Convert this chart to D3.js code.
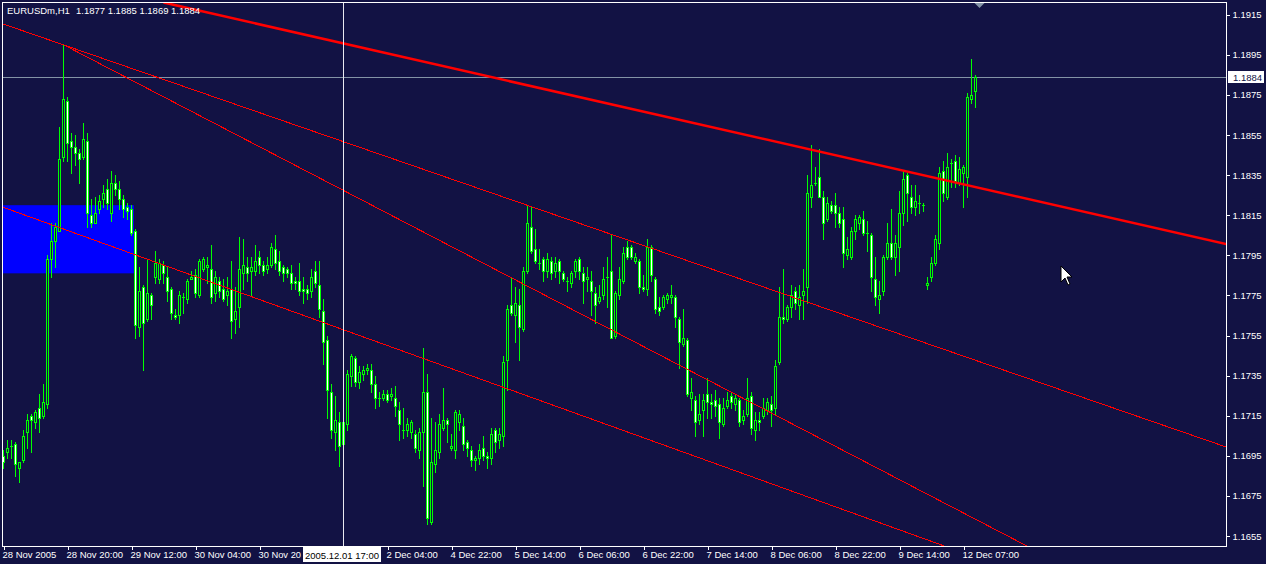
<!DOCTYPE html>
<html><head><meta charset="utf-8">
<script src="https://cdn.jsdelivr.net/npm/d3@7"></script>
<style>
html,body{margin:0;padding:0;background:#121244;}
svg{display:block;}
text{font-family:"Liberation Sans",Arial,sans-serif;font-size:9.5px;}
</style></head><body><svg id="c" width="1266" height="564"></svg>
<script>
// ---------- DATA ----------
const symbolName = "EURUSDm,H1";
const lastQuote = [1.1877, 1.1885, 1.1869, 1.1884];
const open = [1.1695,1.1697,1.1700,1.1701,1.1689,1.1693,1.1707,1.1715,1.1712,1.1719,
1.1715,1.1721,1.1793,1.1802,1.1807,1.1844,1.1872,1.1852,1.1849,1.1846,
1.1844,1.1852,1.1815,1.1811,1.1818,1.1823,1.1828,1.1816,1.1831,1.1828,
1.1823,1.1819,1.1818,1.1807,1.1759,1.1779,1.1763,1.1775,1.1784,1.1783,
1.1790,1.1784,1.1778,1.1765,1.1765,1.1774,1.1773,1.1783,1.1785,1.1775,
1.1788,1.1789,1.1788,1.1776,1.1782,1.1778,1.1775,1.1778,1.1763,1.1769,
1.1786,1.1789,1.1787,1.1787,1.1794,1.1790,1.1788,1.1790,1.1798,1.1792,
1.1789,1.1788,1.1786,1.1782,1.1782,1.1778,1.1778,1.1777,1.1787,1.1780,
1.1767,1.1753,1.1727,1.1707,1.1712,1.1701,1.1711,1.1735,1.1744,1.1732,
1.1736,1.1738,1.1738,1.1731,1.1724,1.1724,1.1726,1.1725,1.1724,1.1718,
1.1708,1.1708,1.1707,1.1706,1.1698,1.1707,1.1727,1.1662,1.1691,1.1697,
1.1709,1.1713,1.1699,1.1698,1.1712,1.1710,1.1702,1.1698,1.1693,1.1694,
1.1699,1.1695,1.1694,1.1708,1.1703,1.1705,1.1743,1.1770,1.1765,1.1770,
1.1758,1.1787,1.1809,1.1798,1.1791,1.1793,1.1787,1.1792,1.1787,1.1792,
1.1786,1.1782,1.1781,1.1787,1.1793,1.1786,1.1783,1.1782,1.1776,1.1772,
1.1775,1.1784,1.1787,1.1755,1.1775,1.1782,1.1799,1.1799,1.1792,1.1792,
1.1779,1.1778,1.1799,1.1783,1.1769,1.1769,1.1773,1.1774,1.1774,1.1763,
1.1751,1.1753,1.1724,1.1723,1.1713,1.1718,1.1726,1.1722,1.1723,1.1721,
1.1711,1.1720,1.1725,1.1721,1.1723,1.1713,1.1716,1.1725,1.1708,1.1713,
1.1715,1.1718,1.1721,1.1719,1.1742,1.1764,1.1763,1.1769,1.1777,1.1770,
1.1775,1.1779,1.1824,1.1831,1.1834,1.1824,1.1813,1.1820,1.1820,1.1816,
1.1813,1.1795,1.1794,1.1807,1.1811,1.1813,1.1806,1.1805,1.1783,1.1773,
1.1777,1.1794,1.1801,1.1794,1.1799,1.1816,1.1835,1.1824,1.1819,1.1821,
1.1820,1.1780,1.1784,1.1791,1.1801,1.1837,1.1824,1.1841,1.1842,1.1831,
1.1836,1.1834,1.1873,1.1877];
const high = [1.1698,1.1703,1.1703,1.1702,1.1692,1.1708,1.1716,1.1716,1.1718,1.1726,
1.1731,1.1795,1.1811,1.1811,1.1859,1.1900,1.1874,1.1856,1.1855,1.1848,
1.1861,1.1856,1.1823,1.1824,1.1825,1.1830,1.1833,1.1837,1.1835,1.1832,
1.1825,1.1821,1.1820,1.1808,1.1789,1.1780,1.1793,1.1776,1.1797,1.1793,
1.1792,1.1789,1.1779,1.1768,1.1777,1.1776,1.1783,1.1787,1.1788,1.1793,
1.1794,1.1794,1.1800,1.1787,1.1784,1.1783,1.1784,1.1792,1.1779,1.1804,
1.1803,1.1794,1.1794,1.1800,1.1797,1.1792,1.1794,1.1801,1.1805,1.1797,
1.1790,1.1789,1.1790,1.1784,1.1791,1.1784,1.1780,1.1788,1.1792,1.1792,
1.1773,1.1755,1.1731,1.1725,1.1717,1.1713,1.1738,1.1746,1.1745,1.1740,
1.1740,1.1741,1.1741,1.1735,1.1727,1.1728,1.1728,1.1729,1.1730,1.1722,
1.1719,1.1714,1.1713,1.1708,1.1709,1.1749,1.1736,1.1714,1.1712,1.1716,
1.1729,1.1714,1.1706,1.1718,1.1718,1.1714,1.1703,1.1700,1.1695,1.1701,
1.1705,1.1697,1.1709,1.1709,1.1709,1.1745,1.1770,1.1784,1.1779,1.1778,
1.1789,1.1820,1.1819,1.1808,1.1798,1.1794,1.1796,1.1794,1.1794,1.1793,
1.1787,1.1784,1.1787,1.1793,1.1794,1.1789,1.1789,1.1787,1.1779,1.1780,
1.1789,1.1794,1.1805,1.1777,1.1789,1.1799,1.1802,1.1800,1.1796,1.1793,
1.1785,1.1803,1.1800,1.1784,1.1774,1.1775,1.1776,1.1780,1.1775,1.1764,
1.1768,1.1754,1.1734,1.1725,1.1726,1.1726,1.1734,1.1726,1.1728,1.1724,
1.1724,1.1727,1.1727,1.1726,1.1724,1.1718,1.1734,1.1727,1.1717,1.1717,
1.1724,1.1724,1.1725,1.1743,1.1779,1.1788,1.1770,1.1780,1.1779,1.1780,
1.1788,1.1835,1.1850,1.1839,1.1848,1.1827,1.1824,1.1822,1.1826,1.1819,
1.1819,1.1804,1.1809,1.1815,1.1815,1.1817,1.1812,1.1806,1.1794,1.1782,
1.1795,1.1811,1.1818,1.1805,1.1827,1.1837,1.1836,1.1830,1.1830,1.1825,
1.1821,1.1784,1.1794,1.1805,1.1839,1.1842,1.1846,1.1843,1.1845,1.1844,
1.1840,1.1876,1.1893,1.1885];
const low = [1.1689,1.1694,1.1694,1.1685,1.1682,1.1692,1.1699,1.1697,1.1709,1.1707,
1.1714,1.1719,1.1784,1.1789,1.1807,1.1842,1.1842,1.1836,1.1840,1.1831,
1.1843,1.1809,1.1809,1.1811,1.1816,1.1819,1.1818,1.1812,1.1825,1.1818,
1.1814,1.1813,1.1805,1.1754,1.1755,1.1738,1.1762,1.1763,1.1781,1.1781,
1.1781,1.1772,1.1763,1.1763,1.1761,1.1766,1.1771,1.1783,1.1774,1.1774,
1.1787,1.1781,1.1771,1.1772,1.1774,1.1772,1.1770,1.1754,1.1756,1.1759,
1.1778,1.1782,1.1775,1.1785,1.1786,1.1785,1.1786,1.1789,1.1788,1.1785,
1.1782,1.1784,1.1778,1.1778,1.1775,1.1771,1.1773,1.1774,1.1779,1.1764,
1.1741,1.1714,1.1704,1.1698,1.1690,1.1700,1.1708,1.1730,1.1730,1.1729,
1.1733,1.1736,1.1727,1.1719,1.1720,1.1723,1.1722,1.1723,1.1715,1.1703,
1.1704,1.1705,1.1704,1.1697,1.1694,1.1680,1.1661,1.1661,1.1687,1.1694,
1.1708,1.1702,1.1698,1.1694,1.1708,1.1698,1.1695,1.1690,1.1688,1.1691,
1.1693,1.1689,1.1691,1.1697,1.1699,1.1700,1.1728,1.1765,1.1752,1.1743,
1.1757,1.1786,1.1796,1.1791,1.1788,1.1782,1.1784,1.1783,1.1784,1.1781,
1.1782,1.1777,1.1779,1.1784,1.1783,1.1771,1.1777,1.1765,1.1761,1.1771,
1.1773,1.1769,1.1754,1.1754,1.1773,1.1781,1.1793,1.1793,1.1791,1.1776,
1.1777,1.1775,1.1782,1.1766,1.1765,1.1768,1.1771,1.1771,1.1759,1.1739,
1.1750,1.1725,1.1718,1.1705,1.1711,1.1705,1.1714,1.1714,1.1715,1.1704,
1.1710,1.1719,1.1719,1.1718,1.1710,1.1711,1.1715,1.1706,1.1703,1.1708,
1.1714,1.1716,1.1710,1.1716,1.1741,1.1761,1.1762,1.1764,1.1768,1.1763,
1.1763,1.1771,1.1819,1.1830,1.1824,1.1803,1.1812,1.1816,1.1809,1.1809,
1.1789,1.1793,1.1793,1.1803,1.1808,1.1805,1.1797,1.1777,1.1770,1.1766,
1.1775,1.1793,1.1793,1.1785,1.1787,1.1810,1.1812,1.1816,1.1815,1.1816,
1.1817,1.1778,1.1782,1.1790,1.1798,1.1822,1.1823,1.1829,1.1829,1.1830,
1.1819,1.1824,1.1871,1.1869];
const close = [1.1692,1.1699,1.1700,1.1691,1.1692,1.1705,1.1713,1.1713,1.1717,1.1714,
1.1722,1.1793,1.1802,1.1809,1.1843,1.1873,1.1851,1.1849,1.1846,1.1843,
1.1853,1.1816,1.1811,1.1816,1.1822,1.1826,1.1821,1.1831,1.1828,1.1823,
1.1818,1.1817,1.1806,1.1760,1.1777,1.1761,1.1776,1.1770,1.1791,1.1791,
1.1786,1.1777,1.1766,1.1764,1.1775,1.1774,1.1782,1.1784,1.1776,1.1792,
1.1793,1.1790,1.1774,1.1784,1.1777,1.1773,1.1777,1.1762,1.1767,1.1788,
1.1790,1.1786,1.1789,1.1792,1.1790,1.1787,1.1790,1.1799,1.1791,1.1787,
1.1786,1.1786,1.1781,1.1781,1.1777,1.1777,1.1776,1.1784,1.1781,1.1768,
1.1752,1.1728,1.1708,1.1713,1.1700,1.1712,1.1736,1.1745,1.1732,1.1737,
1.1738,1.1739,1.1731,1.1724,1.1724,1.1726,1.1723,1.1726,1.1720,1.1711,
1.1708,1.1711,1.1712,1.1699,1.1707,1.1727,1.1664,1.1692,1.1698,1.1711,
1.1713,1.1711,1.1700,1.1717,1.1716,1.1701,1.1699,1.1693,1.1694,1.1698,
1.1695,1.1694,1.1706,1.1702,1.1706,1.1742,1.1768,1.1766,1.1771,1.1759,
1.1787,1.1811,1.1797,1.1792,1.1791,1.1787,1.1793,1.1786,1.1791,1.1787,
1.1783,1.1782,1.1786,1.1792,1.1787,1.1782,1.1784,1.1777,1.1770,1.1774,
1.1783,1.1784,1.1754,1.1776,1.1783,1.1796,1.1794,1.1794,1.1794,1.1779,
1.1778,1.1799,1.1785,1.1768,1.1767,1.1774,1.1775,1.1775,1.1764,1.1752,
1.1754,1.1726,1.1727,1.1712,1.1716,1.1723,1.1722,1.1721,1.1720,1.1712,
1.1719,1.1723,1.1722,1.1724,1.1712,1.1715,1.1724,1.1709,1.1713,1.1712,
1.1719,1.1722,1.1718,1.1740,1.1764,1.1763,1.1769,1.1775,1.1771,1.1774,
1.1777,1.1826,1.1830,1.1831,1.1824,1.1811,1.1821,1.1817,1.1816,1.1811,
1.1796,1.1798,1.1807,1.1813,1.1814,1.1806,1.1806,1.1784,1.1774,1.1775,
1.1794,1.1801,1.1794,1.1801,1.1816,1.1833,1.1826,1.1819,1.1822,1.1821,
1.1820,1.1781,1.1791,1.1803,1.1836,1.1826,1.1839,1.1841,1.1832,1.1838,
1.1839,1.1874,1.1875,1.1884];

const priceTicks = [1.1655,1.1675,1.1695,1.1715,1.1735,1.1755,1.1775,1.1795,1.1815,1.1835,1.1855,1.1875,1.1895,1.1915];
// the "1 Dec 12:00" label at bar 80 is hidden under the cursor's time box in the reference
const timeLabelBars = [0,16,32,48,64,96,112,128,144,160,176,192,208,224,240];
const timeLabels = ["28 Nov 2005","28 Nov 20:00","29 Nov 12:00","30 Nov 04:00","30 Nov 20:00","2 Dec 04:00","4 Dec 22:00","5 Dec 14:00","6 Dec 06:00","6 Dec 22:00","7 Dec 14:00","8 Dec 06:00","8 Dec 22:00","9 Dec 14:00","12 Dec 07:00"];

const bidPrice = 1.1884;
const cursorBar = 85;
const cursorLabel = "2005.12.01 17:00";
const zoneBars = [-2, 32.6];
const zonePrices = [1.1786, 1.1820];
const thickTrend = [[40, 1.19211], [320, 1.17941]];
const channelTop = [[-1, 1.19110], [320, 1.16895]];
const fanLine = [[15, 1.19000], [300, 1.16042]];
const channelBottom = [[-1, 1.18196], [300, 1.16035]];
const shiftMarkBar = 244;

// ---------- DRAW ----------
const W = 1266, H = 564;
const BG = "#121244";
const plot = {l: 2.5, t: 2.5, r: 1226.5, b: 546.5};
const svg = d3.select("#c");
svg.append("rect").attr("width", W).attr("height", H).attr("fill", BG);

const x = d3.scaleLinear().domain([0, 305.75]).range([3.5, 1226.5]);
const y = d3.scaleLinear().domain([1.1655, 1.1915]).range([536, 14.7]);

const defs = svg.append("defs");
defs.append("clipPath").attr("id", "clip").append("rect")
  .attr("x", plot.l).attr("y", plot.t).attr("width", plot.r - plot.l).attr("height", plot.b - plot.t);

const g = svg.append("g").attr("clip-path", "url(#clip)");

// zone rectangle
g.append("rect")
  .attr("x", x(zoneBars[0])).attr("width", x(zoneBars[1]) - x(zoneBars[0]))
  .attr("y", y(zonePrices[1])).attr("height", y(zonePrices[0]) - y(zonePrices[1]))
  .attr("fill", "#0000ff");

// header text
svg.append("text").attr("x", 7).attr("y", 14).attr("fill", "#ffffff").text(symbolName);
svg.append("text").attr("x", 76).attr("y", 14).attr("fill", "#ffffff")
  .text(lastQuote.map(d3.format(".4f")).join(" "));

// bid line
g.append("line").attr("x1", plot.l).attr("x2", plot.r)
  .attr("y1", Math.round(y(bidPrice)) + 0.5).attr("y2", Math.round(y(bidPrice)) + 0.5)
  .attr("stroke", "#8393a6").attr("stroke-width", 1);

// candles
const idx = d3.range(open.length);
const cg = g.append("g").attr("shape-rendering", "crispEdges");
cg.selectAll("line.wick").data(idx).join("line").attr("class", "wick")
  .attr("x1", i => x(i)).attr("x2", i => x(i))
  .attr("y1", i => Math.round(y(high[i]))).attr("y2", i => Math.round(y(low[i])) + 1)
  .attr("stroke", "#00ff00");
const bodies = idx.filter(i => Math.abs(y(open[i]) - y(close[i])) >= 1.5);
const dojis = idx.filter(i => Math.abs(y(open[i]) - y(close[i])) < 1.5);
cg.selectAll("rect.body").data(bodies).join("rect").attr("class", "body")
  .attr("x", i => x(i) - 1).attr("width", 2)
  .attr("y", i => Math.round(y(Math.max(open[i], close[i]))) + 0.5)
  .attr("height", i => Math.round(y(Math.min(open[i], close[i]))) - Math.round(y(Math.max(open[i], close[i]))))
  .attr("fill", i => close[i] > open[i] ? BG : "#ffffff")
  .attr("stroke", "#00ff00");
cg.selectAll("line.doji").data(dojis).join("line").attr("class", "doji")
  .attr("x1", i => x(i) - 1.5).attr("x2", i => x(i) + 1.5)
  .attr("y1", i => Math.round(y(open[i])) + 0.5).attr("y2", i => Math.round(y(open[i])) + 0.5)
  .attr("stroke", "#00ff00");

// trend lines
const tl = d3.line().x(d => x(d[0])).y(d => y(d[1]));
[channelTop, fanLine, channelBottom].forEach(L => {
  g.append("path").attr("d", tl(L)).attr("fill", "none").attr("stroke", "#ff0000")
    .attr("stroke-width", 1).attr("shape-rendering", "crispEdges");
});
g.append("path").attr("d", tl(thickTrend)).attr("fill", "none").attr("stroke", "#ff0000")
  .attr("stroke-width", 2.6);

// vertical cursor line
g.append("line").attr("x1", x(cursorBar)).attr("x2", x(cursorBar))
  .attr("y1", plot.t).attr("y2", plot.b).attr("stroke", "#e8e8f0").attr("stroke-width", 1);

// frame
svg.append("rect").attr("x", plot.l).attr("y", plot.t)
  .attr("width", plot.r - plot.l).attr("height", plot.b - plot.t)
  .attr("fill", "none").attr("stroke", "#ffffff");

// right price axis
const ya = svg.append("g").attr("transform", `translate(${plot.r},0)`)
  .call(d3.axisRight(y).tickValues(priceTicks).tickFormat(d3.format(".4f")).tickSize(3).tickPadding(3));
ya.select(".domain").remove();
ya.selectAll("line").attr("stroke", "#ffffff").attr("shape-rendering", "crispEdges");
ya.selectAll("text").attr("fill", "#ffffff").style("font-family", "Liberation Sans").style("font-size", "9.5px");

// cursor time label box position
const boxX = x(cursorBar) - 40.5, boxW = 78;
defs.append("clipPath").attr("id", "tclip").append("rect")
  .attr("x", 0).attr("y", -5).attr("width", boxX).attr("height", 30);

// bottom time axis
const xa = svg.append("g").attr("transform", `translate(0,${plot.b})`)
  .call(d3.axisBottom(x).tickValues(timeLabelBars).tickFormat((d, k) => timeLabels[k]).tickSize(3).tickPadding(2));
xa.select(".domain").remove();
xa.selectAll("line").attr("stroke", "#ffffff").attr("shape-rendering", "crispEdges");
xa.selectAll("text").attr("fill", "#ffffff").attr("text-anchor", "start").attr("dx", "-1.5")
  .style("font-family", "Liberation Sans").style("font-size", "9.5px");
xa.selectAll(".tick").filter(d => d < cursorBar && x(d) + 60 > boxX)
  .attr("clip-path", function(d) {
    d3.select(this).select("text").attr("textLength", boxX - x(d) - 1).attr("lengthAdjust", "spacingAndGlyphs")
      .text(timeLabels[timeLabelBars.indexOf(d)].slice(0, 9));
    return null;
  });

// bid price label
const by = y(bidPrice);
svg.append("rect").attr("x", 1228).attr("y", Math.round(by) - 6).attr("width", 36).attr("height", 12).attr("fill", "#ffffff");
svg.append("text").attr("x", 1233).attr("y", Math.round(by) + 3.5).attr("fill", BG).text(d3.format(".4f")(bidPrice));

// cursor time label
svg.append("rect").attr("x", boxX).attr("y", 547).attr("width", boxW).attr("height", 15).attr("fill", "#ffffff");
svg.append("text").attr("x", x(cursorBar) - 1.5).attr("y", 558.5).attr("text-anchor", "middle").attr("fill", "#000000").text(cursorLabel);

// chart shift marker
const sx = x(shiftMarkBar);
svg.append("path").attr("d", `M${sx - 5},3 L${sx + 5},3 L${sx},8 Z`).attr("fill", "#8393a6");

// mouse pointer
svg.append("path").attr("transform", "translate(1061,266)")
  .attr("d", "M0,0 L0,16 L4,12 L7,19 L9,18 L6,11 L11,11 Z")
  .attr("fill", "#ffffff").attr("stroke", "#000000").attr("stroke-width", 1);
</script></body></html>
